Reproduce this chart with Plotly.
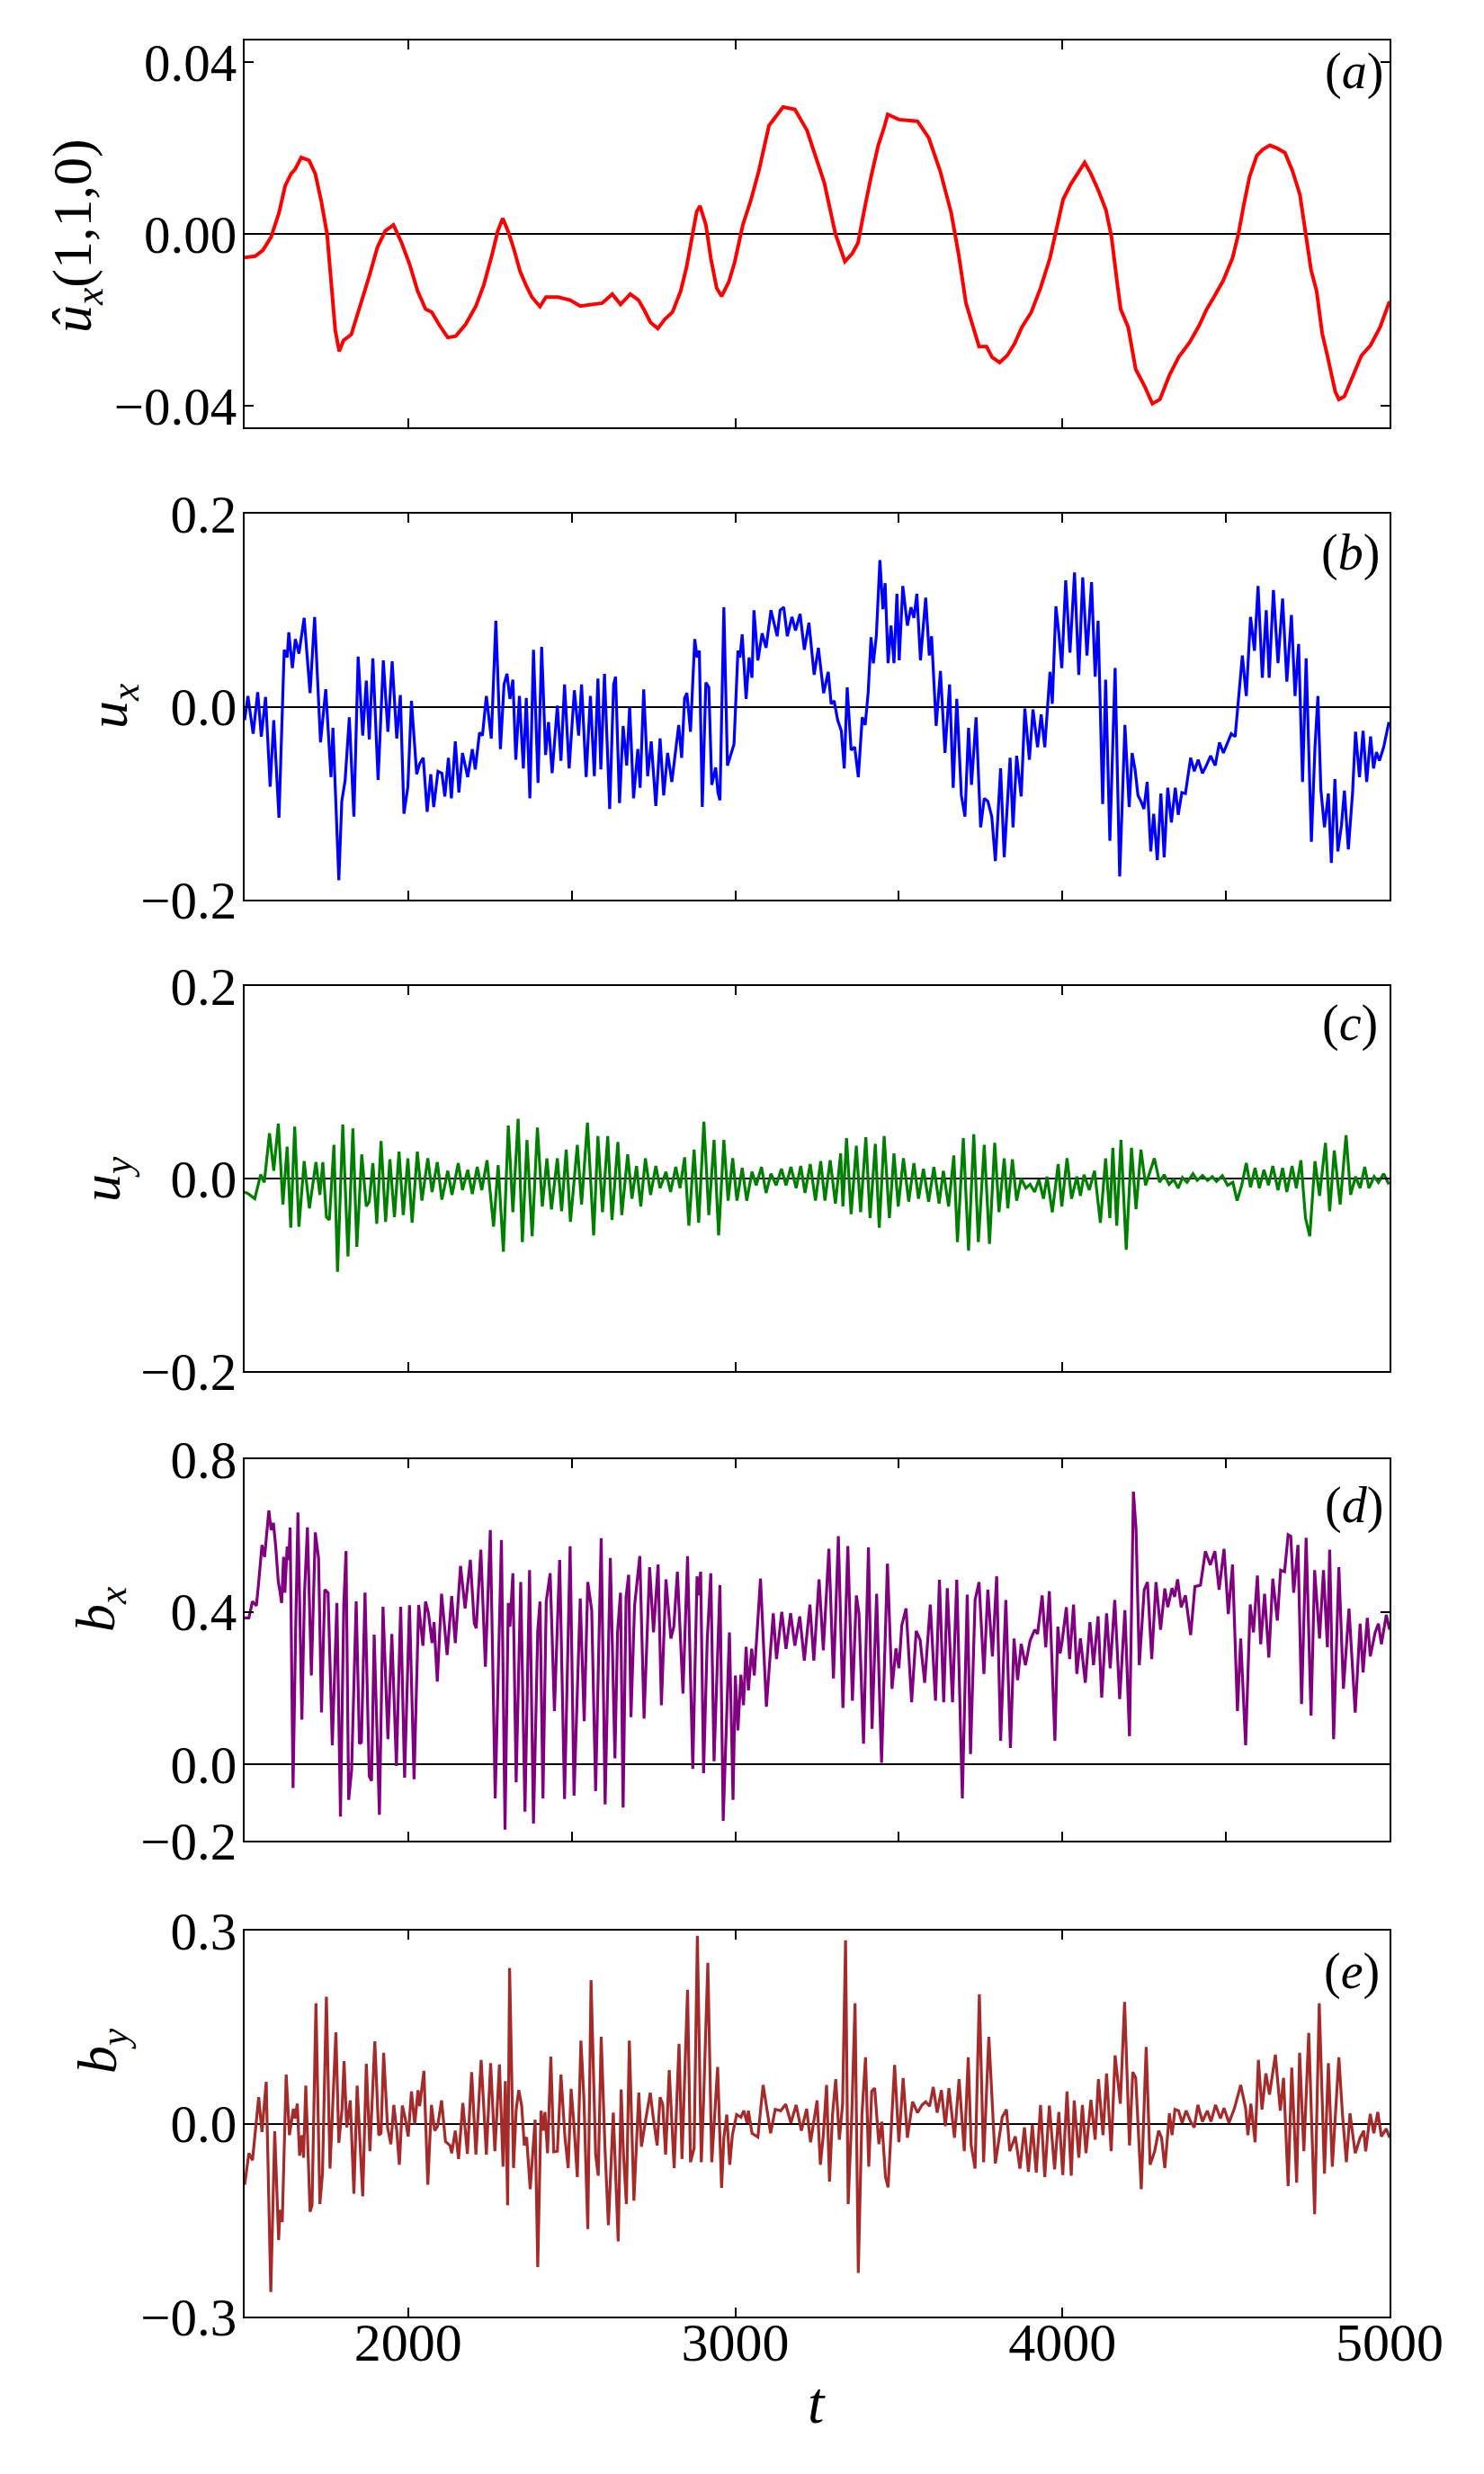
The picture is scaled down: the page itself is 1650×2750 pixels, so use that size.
import plotly.graph_objects as go

# ---------------- data ----------------
t_a = [1500,1532,1556,1581,1605,1624,1642,1654,1673,1697,
       1716,1734,1752,1765,1777,1789,1802,1826,1845,1863,
       1881,1906,1930,1955,1980,2004,2029,2053,2072,2096,
       2121,2145,2176,2207,2231,2256,2274,2289,2305,2323,
       2342,2360,2378,2403,2421,2458,2495,2526,2556,2593,
       2624,2649,2679,2704,2722,2741,2763,2784,2808,2833,
       2851,2869,2882,2892,2910,2925,2943,2958,2980,2998,
       3023,3047,3072,3103,3121,3146,3182,3219,
       3272,3306,3335,3358,3375,3386,3398,3415,3437,3455,
       3466,3500,3529,3557,3591,3626,3660,3683,3705,3728,
       3745,3768,3785,3808,3831,3854,3876,3905,3933,3962,
       3985,4002,4025,4047,4068,4087,4110,4133,4150,4167,
       4178,4201,4224,4253,4275,4298,4327,4355,4389,4418,
       4441,4463,4492,4520,4538,4555,4572,4594,4612,4634,
       4657,4680,4703,4726,4743,4760,4777,4794,4811,4834,
       4845,4862,4885,4914,4942,4971,5000]
ux_hat = [-0.0055,-0.0052,-0.0038,-0.0007,0.0049,0.0112,0.0140,0.0150,0.0178,0.0171,
          0.0140,0.0077,0.0000,-0.0112,-0.0224,-0.0273,-0.0248,-0.0234,-0.0189,-0.0140,
          -0.0098,-0.0031,0.0007,0.0021,-0.0021,-0.0070,-0.0133,-0.0175,-0.0182,-0.0213,
          -0.0241,-0.0238,-0.0210,-0.0168,-0.0119,-0.0049,0.0007,0.0036,0.0007,-0.0035,
          -0.0087,-0.0119,-0.0147,-0.0169,-0.0147,-0.0147,-0.0154,-0.0168,-0.0164,-0.0161,
          -0.0140,-0.0164,-0.0140,-0.0154,-0.0178,-0.0206,-0.0220,-0.0199,-0.0182,-0.0133,
          -0.0077,0.0000,0.0052,0.0065,0.0021,-0.0056,-0.0126,-0.0145,-0.0112,-0.0066,
          0.0021,0.0077,0.0147,0.0252,0.0269,0.0295,0.0290,0.0241,
          0.0119,0.0000,-0.0064,-0.0045,-0.0021,0.0028,0.0070,0.0133,0.0206,0.0248,
          0.0278,0.0266,0.0264,0.0262,0.0224,0.0147,0.0049,-0.0049,-0.0161,-0.0217,
          -0.0262,-0.0262,-0.0287,-0.0299,-0.0283,-0.0255,-0.0217,-0.0182,-0.0126,-0.0056,
          0.0028,0.0080,0.0115,0.0142,0.0166,0.0140,0.0101,0.0056,-0.0007,-0.0112,
          -0.0175,-0.0217,-0.0315,-0.0357,-0.0395,-0.0385,-0.0329,-0.0287,-0.0252,-0.0213,
          -0.0175,-0.0147,-0.0108,-0.0056,0.0000,0.0070,0.0133,0.0182,0.0196,0.0206,
          0.0199,0.0189,0.0147,0.0091,0.0000,-0.0084,-0.0133,-0.0231,-0.0287,-0.0367,
          -0.0385,-0.0378,-0.0336,-0.0283,-0.0259,-0.0217,-0.0157]

t_b = [1500,1510,1526,1540,1551,1564,1578,1589,1605,1621,
       1630,1635,1646,1655,1666,1682,1700,1714,1732,1748,
       1764,1770,1788,1797,1807,1820,1834,1847,1861,1872,
       1881,1892,1908,1924,1938,1951,1965,1976,1987,1999,
       2010,2026,2035,2046,2058,2069,2078,2091,2103,2112,
       2123,2132,2144,2155,2166,2182,2196,2205,2218,2227,
       2239,2254,2268,2282,2293,2302,2311,2320,2329,2340,
       2352,2361,2372,2383,2397,2408,2420,2429,2440,2456,
       2467,2478,2492,2508,2521,2530,2544,2557,2569,2580,
       2589,2600,2616,2628,2634,2646,2657,2668,2677,2689,
       2702,2709,2720,2732,2743,2757,2770,2781,2793,2806,
       2827,2836,2845,2852,2863,2876,2883,2890,2899,2910,
       2919,2928,2940,2947,2953,2965,2976,2983,2996,3008,
       3014,3021,3033,3042,3051,3057,3069,3082,3094,3109,
       3128,3137,3148,3159,3173,3184,3198,3211,3225,3241,
       3254,3270,3284,3293,3302,3313,3324,3333,3342,3354,
       3365,3376,3388,3397,3406,3415,3422,3431,3442,3451,
       3458,3467,3476,3485,3494,3501,3512,3526,3537,3546,
       3555,3566,3582,3593,3600,3614,3627,3641,3655,3666,
       3677,3691,3702,3713,3722,3736,3750,3761,3772,3784,
       3795,3811,3822,3840,3849,3860,3874,3885,3899,3910,
       3924,3935,3946,3962,3969,3980,3989,3998,4010,4023,
       4037,4050,4062,4075,4089,4100,4109,4123,4132,4145,
       4161,4175,4191,4204,4213,4222,4231,4240,4249,4259,
       4270,4279,4290,4301,4311,4322,4333,4345,4354,4365,
       4376,4392,4403,4415,4428,4440,4453,4467,4480,4492,
       4505,4516,4528,4539,4550,4562,4575,4587,4598,4611,
       4623,4632,4645,4659,4673,4686,4700,4711,4722,4734,
       4745,4761,4772,4781,4790,4801,4813,4822,4833,4842,
       4853,4862,4874,4887,4896,4908,4919,4930,4942,4951,
       4960,4969,4982,4998]
u_x = [-0.014,0.011,-0.028,0.015,-0.031,0.010,-0.083,-0.014,-0.115,0.059,
       0.051,0.077,0.040,0.070,0.055,0.092,0.014,0.093,-0.037,0.018,
       -0.073,-0.022,-0.180,-0.098,-0.077,-0.011,-0.114,0.052,-0.030,0.027,
       -0.034,0.050,-0.076,0.048,-0.026,0.047,-0.033,0.012,-0.111,-0.083,
       0.006,-0.070,-0.059,-0.053,-0.109,-0.070,-0.104,-0.067,-0.069,-0.093,
       -0.053,-0.095,-0.036,-0.089,-0.048,-0.073,-0.044,-0.065,-0.027,-0.030,
       0.011,-0.033,0.089,-0.044,0.023,0.034,0.008,0.028,-0.055,0.011,
       -0.064,0.009,-0.095,0.059,-0.079,0.062,-0.050,-0.016,-0.069,0.001,
       -0.056,0.023,-0.064,0.017,-0.030,0.023,-0.073,0.011,-0.072,0.029,
       -0.065,0.034,-0.106,0.023,0.031,-0.100,-0.020,-0.061,0.000,-0.095,
       -0.044,-0.084,0.018,-0.072,-0.036,-0.103,-0.033,-0.092,-0.048,-0.078,
       -0.019,-0.053,0.009,0.014,-0.026,0.070,0.051,0.058,-0.104,0.025,
       0.020,-0.081,-0.063,-0.089,-0.097,0.103,-0.061,-0.053,-0.039,0.058,
       0.051,0.075,0.008,0.051,0.030,0.100,0.048,0.076,0.061,0.100,
       0.073,0.100,0.103,0.073,0.093,0.079,0.096,0.059,0.087,0.033,
       0.061,0.014,0.036,0.003,0.006,-0.014,-0.025,-0.064,0.020,-0.045,
       -0.042,-0.073,-0.011,-0.019,0.014,0.072,0.045,0.073,0.152,0.101,
       0.128,0.045,0.084,0.045,0.117,0.048,0.125,0.084,0.103,0.092,
       0.117,0.048,0.113,0.053,0.073,-0.020,0.037,-0.048,0.023,-0.084,
       0.008,-0.092,-0.114,-0.022,-0.081,-0.011,-0.125,-0.095,-0.098,-0.114,
       -0.160,-0.064,-0.156,-0.053,-0.125,-0.051,-0.093,-0.002,-0.055,-0.003,
       -0.042,-0.008,-0.042,0.036,0.003,0.104,0.076,0.040,0.131,0.056,
       0.139,0.033,0.134,0.053,0.129,0.031,0.089,-0.101,0.028,-0.139,
       0.040,-0.176,-0.019,-0.104,-0.048,-0.065,-0.092,-0.098,-0.106,-0.078,
       -0.150,-0.111,-0.159,-0.090,-0.156,-0.084,-0.120,-0.084,-0.112,-0.089,
       -0.090,-0.053,-0.067,-0.055,-0.069,-0.061,-0.051,-0.061,-0.037,-0.048,
       -0.037,-0.028,-0.031,0.011,0.053,0.011,0.093,0.058,0.125,0.030,
       0.100,0.030,0.121,0.045,0.112,0.026,0.095,0.011,0.065,-0.078,
       0.050,-0.140,-0.042,0.011,-0.086,-0.125,-0.090,-0.162,-0.075,-0.150,
       -0.123,-0.087,-0.148,-0.089,-0.026,-0.073,-0.025,-0.078,-0.031,-0.064,
       -0.047,-0.056,-0.042,-0.016]

t_c = [1500,1512,1531,1549,1560,1576,1589,1603,1617,1630,
       1641,1653,1666,1682,1698,1718,1730,1739,1750,1759,
       1773,1784,1800,1816,1831,1843,1858,1872,1881,1892,
       1904,1917,1931,1944,1958,1972,1985,1999,2012,2028,
       2042,2060,2073,2089,2103,2121,2134,2153,2166,2182,
       2196,2211,2225,2241,2261,2275,2291,2306,2320,2336,
       2349,2363,2379,2395,2410,2424,2438,2456,2469,2483,
       2496,2517,2530,2548,2567,2580,2594,2610,2623,2641,
       2653,2671,2684,2698,2711,2725,2741,2757,2770,2788,
       2802,2818,2831,2845,2858,2874,2888,2904,2919,2935,
       2949,2965,2978,2992,3005,3021,3035,3051,3064,3080,
       3094,3109,3125,3141,3155,3170,3186,3200,3213,3229,
       3245,3261,3274,3290,3306,3322,3329,3340,3354,3370,
       3383,3399,3412,3428,3440,3455,3471,3485,3498,3514,
       3530,3546,3560,3575,3591,3607,3623,3636,3652,3668,
       3679,3697,3713,3729,3743,3761,3777,3793,3806,3822,
       3833,3847,3860,3874,3888,3901,3915,3928,3942,3953,
       3969,3987,3998,4014,4028,4044,4055,4066,4082,4098,
       4116,4132,4145,4154,4166,4179,4195,4211,4225,4240,
       4254,4268,4281,4297,4311,4326,4340,4354,4367,4381,
       4399,4412,4428,4444,4458,4471,4489,4505,4521,4534,
       4548,4562,4575,4589,4602,4616,4630,4643,4659,4673,
       4686,4702,4715,4729,4743,4756,4772,4786,4804,4817,
       4831,4849,4867,4881,4896,4910,4924,4937,4953,4966,
       4982,4998]
u_y = [-0.014,-0.016,-0.021,0.004,-0.004,0.047,0.008,0.057,-0.027,0.033,
       -0.051,0.054,-0.050,0.018,-0.031,0.017,-0.017,0.017,-0.040,-0.043,
       0.035,-0.097,0.056,-0.081,0.052,-0.071,0.025,-0.029,-0.024,0.016,
       -0.047,0.039,-0.045,0.020,-0.040,0.028,-0.038,0.021,-0.046,0.028,
       -0.023,0.021,-0.014,0.017,-0.022,0.008,-0.017,0.016,-0.012,0.009,
       -0.016,0.012,-0.012,0.019,-0.050,0.014,-0.076,0.055,-0.035,0.062,
       -0.066,0.040,-0.060,0.053,-0.029,0.021,-0.032,0.021,-0.034,0.030,
       -0.045,0.035,-0.027,0.058,-0.059,0.044,-0.035,0.044,-0.043,0.038,
       -0.038,0.025,-0.021,0.013,-0.029,0.021,-0.017,0.013,-0.010,0.007,
       -0.014,0.012,-0.010,0.022,-0.049,0.030,-0.046,0.059,-0.038,0.040,
       -0.059,0.040,-0.023,0.021,-0.023,0.011,-0.023,0.007,-0.007,0.012,
       -0.015,0.005,-0.007,0.010,-0.007,0.012,-0.010,0.013,-0.015,0.015,
       -0.023,0.018,-0.023,0.019,-0.026,0.026,-0.029,0.042,-0.037,0.034,
       -0.035,0.043,-0.041,0.036,-0.051,0.044,-0.041,0.026,-0.029,0.021,
       -0.024,0.016,-0.021,0.010,-0.024,0.012,-0.026,0.008,-0.029,0.024,
       -0.066,0.042,-0.075,0.046,-0.066,0.035,-0.068,0.037,-0.035,0.021,
       -0.031,0.020,-0.023,0.000,-0.010,-0.006,-0.014,-0.001,-0.021,0.002,
       -0.035,0.015,-0.029,0.021,-0.021,0.002,-0.018,0.004,-0.012,0.008,
       -0.046,0.021,-0.041,0.032,-0.049,0.040,-0.074,0.032,-0.032,0.030,
       -0.007,0.008,0.021,-0.004,0.004,-0.006,-0.001,-0.010,0.001,-0.004,
       0.005,-0.002,0.003,-0.002,0.002,-0.003,0.003,-0.007,-0.004,-0.023,
       -0.007,0.016,-0.009,0.011,-0.010,0.009,-0.007,0.013,-0.012,0.011,
       -0.014,0.013,-0.010,0.019,-0.041,-0.060,0.018,-0.018,0.037,-0.034,
       0.029,-0.027,0.045,-0.017,0.002,-0.010,0.012,-0.010,0.002,-0.004,
       0.005,-0.006]

t_d = [1500,1513,1524,1536,1543,1553,1561,1574,1581,1588,
       1595,1603,1608,1613,1619,1623,1630,1635,1639,1648,
       1656,1663,1675,1683,1692,1704,1716,1726,1735,1745,
       1755,1768,1782,1793,1803,1810,1818,1827,1841,1851,
       1857,1868,1881,1888,1896,1912,1923,1938,1950,1964,
       1977,1989,2004,2018,2032,2045,2053,2062,2073,2079,
       2089,2102,2119,2133,2144,2160,2174,2190,2202,2208,
       2222,2236,2251,2266,2285,2296,2306,2311,2320,2330,
       2344,2357,2371,2383,2396,2403,2412,2422,2434,2447,
       2463,2478,2495,2507,2526,2538,2549,2561,2573,2590,
       2602,2618,2632,2640,2649,2657,2666,2674,2681,2692,
       2708,2721,2738,2750,2764,2774,2788,2803,2812,2823,
       2840,2854,2870,2883,2889,2894,2903,2914,2925,2935,
       2953,2963,2982,2993,3000,3008,3017,3025,3033,3040,
       3050,3058,3077,3095,3116,3126,3142,3155,3169,3182,
       3197,3211,3228,3240,3256,3269,3286,3300,3315,3329,
       3344,3358,3370,3378,3392,3407,3418,3432,3447,3465,
       3479,3491,3500,3509,3522,3539,3553,3565,3579,3596,
       3612,3624,3637,3648,3664,3677,3694,3709,3719,3733,
       3745,3760,3772,3786,3799,3811,3827,3841,3852,3863,
       3874,3887,3901,3915,3924,3938,3949,3960,3977,3986,
       3993,3999,4012,4022,4034,4044,4055,4070,4084,4095,
       4109,4120,4135,4146,4160,4175,4191,4205,4217,4225,
       4235,4250,4260,4273,4286,4300,4313,4322,4335,4343,
       4352,4363,4376,4392,4405,4422,4437,4452,4466,4479,
       4494,4507,4520,4535,4545,4560,4574,4584,4596,4606,
       4618,4631,4643,4657,4667,4679,4690,4698,4707,4720,
       4731,4745,4760,4771,4786,4798,4810,4817,4829,4845,
       4859,4876,4895,4910,4919,4932,4941,4956,4966,4975,
       4990,5000]
b_x = [0.384,0.384,0.427,0.416,0.478,0.575,0.544,0.666,0.614,0.633,
       0.571,0.478,0.454,0.423,0.544,0.450,0.571,0.536,0.621,-0.062,
       0.353,0.660,0.117,0.447,0.621,0.233,0.608,0.540,0.136,0.458,
       0.450,0.050,0.423,-0.137,0.416,0.559,-0.093,-0.016,0.427,0.054,
       0.058,0.450,-0.031,-0.043,0.340,-0.132,0.413,0.066,0.342,-0.004,
       0.413,-0.035,0.417,-0.039,0.418,0.311,0.427,0.396,0.318,0.373,
       0.217,0.447,0.287,0.441,0.318,0.520,0.409,0.536,0.369,0.357,
       0.563,0.256,0.614,-0.089,0.588,-0.171,0.423,0.361,0.501,-0.047,
       0.478,-0.124,0.509,-0.155,0.350,0.427,-0.089,0.427,0.501,0.140,
       0.536,-0.091,0.572,-0.082,0.435,0.113,0.478,0.404,-0.070,0.593,
       -0.105,0.541,0.016,0.346,0.450,-0.113,0.439,0.497,0.124,0.416,
       0.546,0.120,0.517,0.346,0.524,0.155,0.485,0.330,0.361,0.505,
       0.186,0.546,-0.012,0.493,0.443,0.505,-0.023,0.322,0.501,0.008,
       0.470,-0.148,0.346,-0.093,0.233,0.089,0.235,0.155,0.308,0.194,
       0.303,0.233,0.487,0.151,0.396,0.276,0.400,0.303,0.396,0.311,
       0.388,0.272,0.419,0.272,0.485,0.299,0.565,0.225,0.598,0.148,
       0.572,0.167,0.443,0.396,0.054,0.569,0.093,0.447,0.004,0.526,
       0.198,0.304,0.252,0.365,0.409,0.163,0.350,0.326,0.214,0.419,
       0.167,0.484,0.163,0.462,0.163,0.484,-0.089,0.445,0.027,0.431,
       0.478,0.237,0.458,0.283,0.493,0.062,0.431,0.043,0.330,0.221,
       0.316,0.260,0.324,0.353,0.342,0.443,0.307,0.454,0.062,0.361,
       0.291,0.322,0.412,0.276,0.419,0.237,0.330,0.214,0.373,0.260,
       0.388,0.175,0.396,0.252,0.431,0.171,0.404,0.074,0.715,0.617,
       0.260,0.458,0.478,0.276,0.478,0.353,0.461,0.412,0.462,0.439,
       0.485,0.412,0.443,0.339,0.466,0.470,0.559,0.523,0.559,0.458,
       0.565,0.394,0.524,0.140,0.330,0.050,0.419,0.346,0.495,0.315,
       0.447,0.280,0.487,0.377,0.509,0.505,0.602,0.598,0.450,0.575,
       0.158,0.594,0.128,0.509,0.330,0.509,0.307,0.563,0.066,0.517,
       0.198,0.408,0.136,0.369,0.241,0.384,0.283,0.346,0.369,0.315,
       0.392,0.353]

t_e = [1500,1513,1524,1543,1553,1566,1580,1592,1604,1608,
       1615,1627,1637,1649,1654,1661,1668,1675,1680,1687,
       1700,1706,1718,1730,1738,1750,1761,1779,1788,1798,
       1804,1812,1823,1834,1844,1851,1861,1872,1883,1898,
       1910,1917,1925,1937,1947,1956,1965,1973,1982,1991,
       2000,2010,2020,2030,2035,2048,2060,2071,2081,2090,
       2102,2114,2128,2133,2144,2154,2167,2181,2194,2207,
       2223,2239,2252,2265,2279,2290,2297,2304,2310,2322,
       2330,2338,2347,2355,2362,2373,2388,2396,2406,2413,
       2418,2426,2436,2445,2456,2467,2479,2489,2498,2506,
       2517,2528,2537,2549,2559,2573,2581,2590,2602,2612,
       2627,2642,2651,2658,2667,2676,2690,2705,2713,2725,
       2740,2749,2761,2770,2778,2787,2798,2813,2828,2837,
       2854,2863,2874,2884,2896,2903,2916,2928,2937,2946,
       2958,2965,2974,2983,2991,3004,3017,3026,3036,3040,
       3051,3069,3085,3108,3122,3139,3154,3170,3186,3202,
       3218,3230,3250,3260,3269,3279,3288,3297,3307,3318,
       3328,3337,3345,3356,3366,3376,3387,3398,3408,3417,
       3426,3439,3448,3459,3467,3475,3487,3500,3513,3526,
       3542,3557,3571,3582,3594,3605,3617,3630,3642,3653,
       3670,3684,3700,3712,3721,3733,3746,3759,3775,3795,
       3816,3829,3839,3856,3870,3884,3896,3908,3920,3933,
       3946,3960,3976,3989,4001,4014,4027,4036,4050,4061,
       4072,4087,4100,4110,4124,4135,4149,4161,4177,4190,
       4205,4215,4224,4241,4256,4268,4282,4294,4303,4313,
       4327,4335,4344,4355,4366,4378,4392,4403,4414,4428,
       4443,4454,4468,4483,4494,4509,4526,4545,4560,4567,
       4576,4589,4599,4610,4622,4633,4651,4666,4676,4690,
       4701,4716,4725,4738,4753,4771,4785,4801,4813,4825,
       4845,4856,4868,4879,4895,4910,4921,4927,4941,4952,
       4964,4975,4990,5000]
b_y = [-0.095,-0.046,-0.057,0.041,-0.013,0.065,-0.262,-0.012,-0.181,-0.134,
       -0.153,0.076,-0.018,0.023,0.008,0.031,-0.050,-0.018,-0.053,0.059,
       -0.137,-0.127,0.187,-0.125,-0.078,0.197,-0.070,0.142,-0.030,0.024,
       0.097,-0.006,0.036,-0.109,0.059,-0.018,-0.113,0.093,-0.043,0.128,
       -0.018,-0.015,0.110,-0.006,-0.032,0.029,-0.011,-0.064,0.028,0.008,
       -0.020,0.050,-0.001,0.052,0.027,0.082,-0.095,0.029,-0.011,-0.004,
       0.036,-0.028,-0.034,-0.046,-0.011,-0.055,0.032,-0.047,0.080,-0.048,
       0.099,-0.048,0.094,-0.043,0.092,-0.067,0.066,-0.127,0.242,-0.069,
       0.021,0.052,0.027,-0.034,-0.021,-0.102,0.006,-0.223,0.020,-0.011,
       0.018,-0.046,0.104,-0.044,-0.043,0.076,-0.020,-0.069,0.054,0.003,
       -0.083,0.129,0.041,-0.164,0.223,-0.048,-0.081,0.135,-0.043,-0.158,
       0.017,-0.183,0.053,-0.046,-0.125,0.129,-0.120,0.048,-0.036,0.003,
       0.048,0.010,-0.034,0.041,0.030,-0.048,0.083,-0.069,0.124,-0.055,
       0.208,-0.060,-0.038,0.292,-0.060,0.035,0.250,-0.060,0.022,0.088,
       -0.100,-0.022,0.014,-0.064,-0.018,0.014,0.010,0.020,0.001,0.020,
       -0.015,-0.021,0.060,-0.015,0.022,0.020,0.030,0.001,0.029,-0.011,
       0.023,-0.029,0.036,-0.064,-0.018,0.060,-0.090,0.013,0.069,-0.025,
       0.031,0.285,-0.125,0.013,0.187,-0.232,0.013,0.103,-0.067,0.050,
       0.055,-0.032,0.003,-0.083,-0.099,-0.025,0.091,-0.029,0.071,-0.022,
       0.034,0.017,0.029,0.034,0.027,0.057,0.017,0.052,-0.004,0.055,
       -0.022,0.069,-0.043,0.103,-0.034,-0.070,0.201,-0.060,0.135,-0.062,
       0.010,0.022,-0.043,-0.020,-0.070,-0.006,-0.075,-0.002,-0.076,0.029,
       -0.083,0.028,-0.071,0.018,-0.080,0.050,-0.081,0.036,-0.053,0.029,
       -0.046,0.037,-0.025,0.069,-0.018,0.078,-0.043,0.106,0.031,0.189,
       -0.034,0.080,0.071,-0.102,0.119,-0.064,-0.043,-0.011,-0.022,-0.069,
       0.016,-0.018,0.022,0.020,0.001,0.020,0.003,-0.006,0.029,0.003,
       0.020,0.003,0.029,0.008,0.024,0.001,0.024,0.060,0.024,-0.018,
       0.031,-0.029,0.099,0.022,0.078,0.045,0.107,0.020,0.071,-0.097,
       0.087,-0.092,0.110,-0.043,0.141,-0.141,0.187,-0.078,0.094,-0.067,
       0.103,0.015,-0.060,0.016,-0.046,-0.022,-0.011,-0.043,0.015,-0.015,
       0.018,-0.020,-0.008,-0.022]

# axis ticks / labels
y_ranges = [[-0.045, 0.045], [-0.2, 0.2], [-0.2, 0.2], [-0.2, 0.8], [-0.3, 0.3]]
y_tickvals = [[-0.04, 0.0, 0.04], [-0.2, 0.0, 0.2], [-0.2, 0.0, 0.2],
              [-0.2, 0.0, 0.4, 0.8], [-0.3, 0.0, 0.3]]
y_ticktext = [["\u22120.04", "0.00", "0.04"], ["\u22120.2", "0.0", "0.2"],
              ["\u22120.2", "0.0", "0.2"], ["\u22120.2", "0.0", "0.4", "0.8"],
              ["\u22120.3", "0.0", "0.3"]]
x_tickvals = [[2000, 3000, 4000, 5000],
              [1500, 2000, 2500, 3000, 3500, 4000, 4500, 5000],
              [2000, 3000, 4000, 5000],
              [1500, 2000, 2500, 3000, 3500, 4000, 4500, 5000],
              [2000, 3000, 4000, 5000]]
x_ticktext = ["2000", "3000", "4000", "5000"]
y_titles = ["<i>\u00fb</i><sub><i>x</i></sub>(1,1,0)", "<i>u</i><sub><i>x</i></sub>",
            "<i>u</i><sub><i>y</i></sub>", "<i>b</i><sub><i>x</i></sub>",
            "<i>b</i><sub><i>y</i></sub>"]
panel_tags = ["(<i>a</i>)", "(<i>b</i>)", "(<i>c</i>)", "(<i>d</i>)", "(<i>e</i>)"]

series = [(t_a, ux_hat), (t_b, u_x), (t_c, u_y), (t_d, b_x), (t_e, b_y)]
for tt, vv in series:
    assert len(tt) == len(vv), (len(tt), len(vv))

colors = ["#ff0000", "#0000ff", "#008000", "#800080", "#a52a2a"]
widths = [4, 3.2, 3.2, 3.2, 3.2]

# ---------------- layout geometry (pixels) ----------------
W, H = 1650, 2750
x_left, x_right = 272, 1545
panel_px = [(45, 475), (571, 1000), (1096, 1524), (1622, 2046), (2146, 2575)]
ytitle_pos = [(84, 262), (125, 785), (116, 1310), (110, 1789), (112, 2280)]
tag_pos = [(1505, 80), (1501, 614), (1501, 1137), (1505, 1673), (1503, 2191)]

FONT = "Liberation Serif"
fig = go.Figure()
for i, ((tt, vv), c, w) in enumerate(zip(series, colors, widths)):
    k = "" if i == 0 else str(i + 1)
    fig.add_trace(go.Scatter(x=tt, y=vv, mode="lines",
                             line=dict(color=c, width=w),
                             xaxis="x" + k, yaxis="y" + k, showlegend=False,
                             hoverinfo="skip"))
    top, bot = panel_px[i]
    fig.layout["xaxis" + k] = dict(
        domain=[x_left / W, x_right / W], range=[1500, 5000], anchor="y" + k,
        automargin=False,
        showgrid=False, zeroline=False, showline=True, linecolor="black",
        linewidth=2, mirror="ticks", ticks="inside", ticklen=10, tickwidth=1.5,
        tickcolor="black", tickmode="array", tickvals=x_tickvals[i],
        ticktext=x_ticktext if i == 4 else None,
        showticklabels=(i == 4), ticklabelstandoff=-25,
        tickfont=dict(family=FONT, size=60, color="black"))
    fig.layout["yaxis" + k] = dict(
        domain=[1 - bot / H, 1 - top / H], range=y_ranges[i], anchor="x" + k,
        automargin=False,
        showgrid=False, zeroline=True, zerolinecolor="black", zerolinewidth=2,
        showline=True, linecolor="black", linewidth=2, mirror="ticks",
        ticks="inside", ticklen=10, tickwidth=1.5, tickcolor="black",
        tickmode="array", tickvals=y_tickvals[i], ticktext=y_ticktext[i],
        ticklabelstandoff=-5,
        tickfont=dict(family=FONT, size=59, color="black"))
    fig.add_annotation(x=ytitle_pos[i][0] / W, y=1 - ytitle_pos[i][1] / H,
                       xref="paper", yref="paper", text=y_titles[i],
                       textangle=-90, showarrow=False, xanchor="center",
                       yanchor="middle", font=dict(family=FONT, size=62, color="black"))
    fig.add_annotation(x=tag_pos[i][0] / W, y=1 - tag_pos[i][1] / H,
                       xref="paper", yref="paper", text=panel_tags[i],
                       showarrow=False, xanchor="center", yanchor="middle",
                       font=dict(family=FONT, size=56, color="black"))

fig.add_annotation(x=908 / W, y=1 - 2670 / H, xref="paper", yref="paper",
                   text="<i>t</i>", showarrow=False, xanchor="center", yanchor="middle",
                   font=dict(family=FONT, size=66, color="black"))

fig.update_layout(template="none", autosize=False, width=W, height=H,
                  margin=dict(l=0, r=0, t=0, b=0, pad=0, autoexpand=False),
                  paper_bgcolor="white", plot_bgcolor="white", showlegend=False,
                  font=dict(family=FONT, color="black"))
fig.write_html("out.html")
